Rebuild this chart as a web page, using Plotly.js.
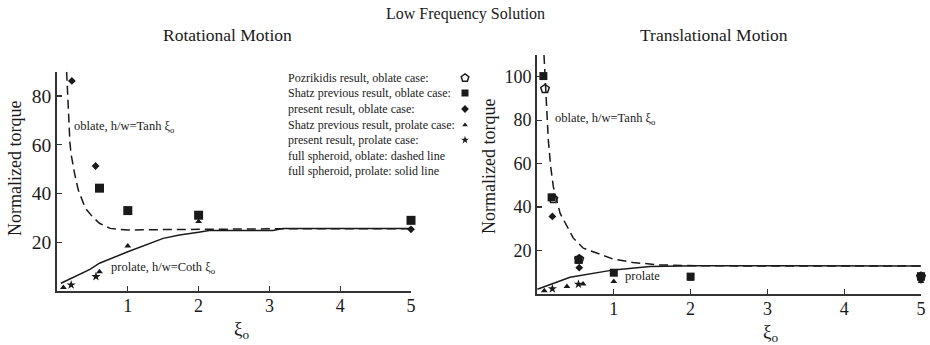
<!DOCTYPE html>
<html>
<head>
<meta charset="utf-8">
<script src="https://cdn.plot.ly/plotly-3.0.1.min.js"></script>
<style>html,body{margin:0;padding:0;background:#fff}#chart{width:930px;height:345px}</style>
</head>
<body>
<div id="chart"></div>
<script>
// ---- Rotational motion data ----
const rotOblateX = [0.136,0.15,0.16,0.175,0.183,0.2,0.23,0.25,0.3,0.4,0.5,0.6,0.75,1,1.5,2,3,4,5];
const rotOblateY = [90,80,74.3,66,60.6,56,51,48,41.5,34,30.5,27.8,25.7,25,25.2,25.4,25.5,25.5,25.5];
const rotProlateX = [0.056,0.25,0.465,0.6,1,1.5,1.73,2,2.15,3.05,3.19,5];
const rotProlateY = [3.2,6.0,8.9,11.4,16.1,21.6,23,24.1,24.8,24.8,25.6,25.6];
const rotShatzOblX = [0.6,1,2,5];
const rotShatzOblY = [42.2,33,31.1,29];
const rotPresentOblX = [0.21,0.545,5];
const rotPresentOblY = [86.2,51.3,25.3];
const rotShatzProX = [0.09,0.6,1,2];
const rotShatzProY = [1.4,7.9,18.5,28.5];
const rotPresentProX = [0.2,0.55];
const rotPresentProY = [2.5,5.9];

// ---- Translational motion data ----
const trOblateX = [0.091,0.117,0.147,0.178,0.212,0.3,0.473,0.603,0.99,1.25,1.6,2.1,2.5,3,4,5];
const trOblateY = [110,89.5,71,58.7,49.5,37.2,25.7,21.1,16.1,14.5,13.4,13,12.9,12.9,12.9,12.9];
const trProlateX = [0.005,0.21,0.43,1,1.47,2.1,3,4,5];
const trProlateY = [2.2,4.9,7.7,11.1,12.6,13,12.9,12.9,12.9];
const trPozX = [0.104,0.212,0.55,5];
const trPozY = [94.4,43.8,16,8];
const trShatzOblX = [0.083,0.19,0.54,1,2,5];
const trShatzOblY = [100.3,44.5,15.7,9.8,8,8.2];
const trPresentOblX = [0.2,0.55,5];
const trPresentOblY = [35.7,12.1,6.5];
const trShatzProX = [0.095,0.39,0.6,1,2,5];
const trShatzProY = [1.5,3.4,4.6,5.7,6.8,5.7];
const trPresentProX = [0.2,0.54];
const trPresentProY = [2.4,4.5];

// ---- Tick labels ----
const xTicks = [1,2,3,4,5];
const rotYTicks = [20,40,60,80];
const trYTicks = [20,40,60,80,100];

// ---- Legend entries ----
const legendLabels = [
  "Pozrikidis result, oblate case:",
  "Shatz previous result, oblate case:",
  "present result, oblate case:",
  "Shatz previous result, prolate case:",
  "present result, prolate case:",
  "full spheroid, oblate: dashed line",
  "full spheroid, prolate: solid line"
];
const legendSymbols = ["pentagon-open","square","diamond","triangle-up","star"];

const W = 930, H = 345;
const FONT = "Liberation Serif";
const INK = "#1a1a1a";
const AX = "#333";

const mk = (sym, size) => ({symbol: sym, size: size, color: INK, line: {color: INK, width: sym.indexOf('open')>=0 ? 1.5 : 0}});

function pts(x, y, xa, ya, sym, size) {
  return {x: x, y: y, xaxis: xa, yaxis: ya, type: 'scatter', mode: 'markers',
          marker: mk(sym, size), cliponaxis: false, hoverinfo: 'skip', showlegend: false};
}
function line(x, y, xa, ya, dash) {
  return {x: x, y: y, xaxis: xa, yaxis: ya, type: 'scatter', mode: 'lines',
          line: {color: INK, width: 1.5, dash: dash}, hoverinfo: 'skip', showlegend: false};
}

const traces = [
  line(rotOblateX, rotOblateY, 'x', 'y', '9px,5px'),
  line(rotProlateX, rotProlateY, 'x', 'y', 'solid'),
  pts(rotShatzOblX, rotShatzOblY, 'x', 'y', 'square', 9),
  pts(rotPresentOblX, rotPresentOblY, 'x', 'y', 'diamond', 6),
  pts(rotShatzProX, rotShatzProY, 'x', 'y', 'triangle-up', 6),
  pts(rotPresentProX, rotPresentProY, 'x', 'y', 'star', 7),

  line(trOblateX, trOblateY, 'x2', 'y2', '9px,5px'),
  line(trProlateX, trProlateY, 'x2', 'y2', 'solid'),
  pts(trShatzOblX, trShatzOblY, 'x2', 'y2', 'square', 8),
  pts(trPozX, trPozY, 'x2', 'y2', 'pentagon-open', 9),
  pts(trPresentOblX, trPresentOblY, 'x2', 'y2', 'diamond', 6),
  pts(trShatzProX, trShatzProY, 'x2', 'y2', 'triangle-up', 6),
  pts(trPresentProX, trPresentProY, 'x2', 'y2', 'star', 7)
];

// legend symbols on a pixel-space overlay axis
const legRowY = [78, 93, 109, 125, 140, 156, 171];
const legSymX = 465;
const legendSizes = [8, 7, 6, 5, 6];
legendSymbols.forEach((s, i) => {
  traces.push({x: [legSymX], y: [legRowY[i]], xaxis: 'x3', yaxis: 'y3', type: 'scatter', mode: 'markers',
    marker: mk(s, legendSizes[i]), cliponaxis: false, hoverinfo: 'skip', showlegend: false});
});

const px = v => v / W;
const py = v => 1 - v / H;

function axisX(domain) {
  return {domain: domain, range: [0, 5], tickvals: xTicks, ticks: 'inside', ticklen: 5, tickwidth: 1.2,
    tickcolor: AX, showline: true, linecolor: AX, linewidth: 1.8, showgrid: false, zeroline: false,
    ticklabelstandoff: -2,
    tickfont: {family: FONT, size: 18, color: INK}, fixedrange: true};
}
function axisY(domain, range, vals, fs) {
  return {domain: domain, range: range, tickvals: vals, ticks: 'inside', ticklen: 5, tickwidth: 1.2,
    tickcolor: AX, showline: true, linecolor: AX, linewidth: 1.8, showgrid: false, zeroline: false,
    tickfont: {family: FONT, size: fs, color: INK}, fixedrange: true};
}

const ann = [];
function txt(text, x, y, size, xanchor, angle) {
  ann.push({text: text, xref: 'paper', yref: 'paper', x: px(x), y: py(y), xanchor: xanchor || 'center',
    yanchor: 'middle', showarrow: false, textangle: angle || 0, font: {family: FONT, size: size, color: INK}});
}
txt("Low Frequency Solution", 465, 14, 16);
txt("Rotational Motion", 227, 35, 17.5);
txt("Translational Motion", 714, 35, 17.5);
txt("Normalized torque", 15, 169, 18, 'center', -90);
txt("Normalized torque", 489, 166, 18, 'center', -90);
txt("ξ<sub>o</sub>", 242, 330, 19);
txt("ξ<sub>o</sub>", 770, 333, 19);
txt("oblate, h/w=Tanh ξ<sub>o</sub>", 72, 127, 12.5, 'left');
txt("prolate, h/w=Coth ξ<sub>o</sub>", 109, 268, 12.5, 'left');
txt("oblate, h/w=Tanh ξ<sub>o</sub>", 553, 119, 12.5, 'left');
txt("prolate", 623, 276, 12.5, 'left');
legendLabels.forEach((t, i) => txt(t, 286, legRowY[i], 12, 'left'));

const layout = {
  width: W, height: H, margin: {l: 0, r: 0, t: 0, b: 0},
  paper_bgcolor: '#fff', plot_bgcolor: 'rgba(0,0,0,0)', showlegend: false,
  xaxis: axisX([57 / W, 411 / W]),
  yaxis: axisY([1 - 291 / H, 1 - 71.7 / H], [0, 90], rotYTicks, 19.5),
  xaxis2: Object.assign(axisX([537 / W, 921 / W]), {anchor: 'y2'}),
  yaxis2: Object.assign(axisY([1 - 294 / H, 1 - 55 / H], [0, 110], trYTicks, 18), {anchor: 'x2'}),
  xaxis3: {domain: [0, 1], range: [0, W], visible: false, anchor: 'y3', fixedrange: true},
  yaxis3: {domain: [0, 1], range: [H, 0], visible: false, anchor: 'x3', fixedrange: true},
  annotations: ann
};
layout.xaxis.anchor = 'y';
layout.yaxis.anchor = 'x';

Plotly.newPlot('chart', traces, layout, {staticPlot: true, displayModeBar: false});
</script>
</body>
</html>
